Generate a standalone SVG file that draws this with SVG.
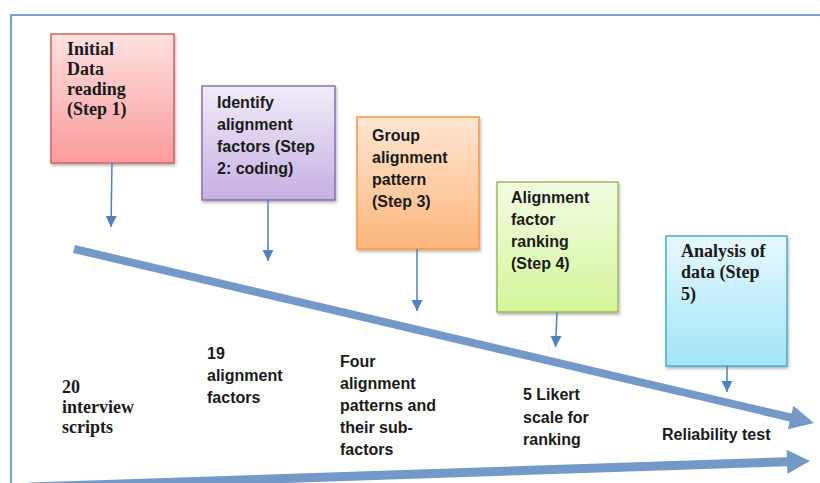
<svg xmlns="http://www.w3.org/2000/svg" width="820" height="483" viewBox="0 0 820 483">
<style>
.serif{font-family:"Liberation Serif","Times New Roman",serif;font-weight:bold;font-size:18px;fill:#1a1a1a}
.sans{font-family:"Liberation Sans",Arial,sans-serif;font-weight:bold;font-size:16px;fill:#1a1a1a}
.thin{stroke:#4F81BD;stroke-width:1.5;fill:none;marker-end:url(#ah)}
.thick{fill:#7299C8;stroke:none}
.box{stroke-width:1.5;filter:url(#sh)}
</style>
<defs>
<marker id="ah" viewBox="0 0 10 10" refX="10" refY="5" markerWidth="7.5" markerHeight="7.5" markerUnits="strokeWidth" orient="auto">
<path d="M0,0 L10,5 L0,10 z" fill="#4F81BD"/>
</marker>
<filter id="sh" x="-10%" y="-10%" width="125%" height="125%">
<feDropShadow dx="1" dy="2" stdDeviation="1.5" flood-color="#000" flood-opacity="0.3"/>
</filter>
<linearGradient id="gRed" x1="0" y1="0" x2="0" y2="1"><stop offset="0" stop-color="#FFE1E1"/><stop offset="1" stop-color="#FA9B9B"/></linearGradient>
<linearGradient id="gPur" x1="0" y1="0" x2="0" y2="1"><stop offset="0" stop-color="#F1ECF8"/><stop offset="1" stop-color="#C6B0E2"/></linearGradient>
<linearGradient id="gOra" x1="0" y1="0" x2="0" y2="1"><stop offset="0" stop-color="#FFE6D4"/><stop offset="1" stop-color="#FDB67B"/></linearGradient>
<linearGradient id="gGrn" x1="0" y1="0" x2="0" y2="1"><stop offset="0" stop-color="#F2FDE4"/><stop offset="1" stop-color="#D4F59A"/></linearGradient>
<linearGradient id="gBlu" x1="0" y1="0" x2="0" y2="1"><stop offset="0" stop-color="#E8F8FD"/><stop offset="1" stop-color="#A0E5F8"/></linearGradient>
</defs>
<rect width="820" height="483" fill="#fff"/>
<g id="frame" fill="none" stroke="#7AA0CF" stroke-width="2">
<path d="M11,483 L11,15 L820,15"/>
</g>
<g id="step1">
<rect class="box" x="51" y="34" width="123" height="129" fill="url(#gRed)" stroke="#D06262"/>
<text class="serif"><tspan x="67" y="55">Initial</tspan><tspan x="67" y="75">Data</tspan><tspan x="67" y="95">reading</tspan><tspan x="67" y="115">(Step 1)</tspan></text>
</g>
<g id="step2">
<rect class="box" x="202" y="86" width="133" height="114" fill="url(#gPur)" stroke="#8A6FB0"/>
<text class="sans"><tspan x="217" y="108">Identify</tspan><tspan x="217" y="130">alignment</tspan><tspan x="217" y="152">factors (Step</tspan><tspan x="217" y="174">2: coding)</tspan></text>
</g>
<g id="step3">
<rect class="box" x="357" y="117" width="122" height="132" fill="url(#gOra)" stroke="#F79646"/>
<text class="sans"><tspan x="372" y="141">Group</tspan><tspan x="372" y="163">alignment</tspan><tspan x="372" y="185">pattern</tspan><tspan x="372" y="207">(Step 3)</tspan></text>
</g>
<g id="step4">
<rect class="box" x="497" y="182" width="121" height="130" fill="url(#gGrn)" stroke="#9BBB59"/>
<text class="sans"><tspan x="511" y="203">Alignment</tspan><tspan x="511" y="225">factor</tspan><tspan x="511" y="247">ranking</tspan><tspan x="511" y="269">(Step 4)</tspan></text>
</g>
<g id="step5">
<rect class="box" x="666" y="236" width="121" height="130" fill="url(#gBlu)" stroke="#4BACC6"/>
<text class="serif"><tspan x="681" y="257">Analysis of</tspan><tspan x="681" y="278">data (Step</tspan><tspan x="681" y="300">5)</tspan></text>
</g>
<g id="out1"><text class="serif"><tspan x="62" y="393">20</tspan><tspan x="62" y="413">interview</tspan><tspan x="62" y="433">scripts</tspan></text></g>
<g id="out2"><text class="sans"><tspan x="207" y="359">19</tspan><tspan x="207" y="381">alignment</tspan><tspan x="207" y="403">factors</tspan></text></g>
<g id="out3"><text class="sans"><tspan x="340" y="367">Four</tspan><tspan x="340" y="389">alignment</tspan><tspan x="340" y="411">patterns and</tspan><tspan x="340" y="433">their sub-</tspan><tspan x="340" y="455">factors</tspan></text></g>
<g id="out4"><text class="sans"><tspan x="523" y="400">5 Likert</tspan><tspan x="523" y="423">scale for</tspan><tspan x="523" y="445">ranking</tspan></text></g>
<g id="out5"><text class="sans" x="662" y="440">Reliability test</text></g>
<g id="connectors">
<path class="thin" d="M112,163 L111,227"/>
<path class="thin" d="M268,200 L268,261"/>
<path class="thin" d="M417,249 L417,311"/>
<path class="thin" d="M557,312 L555.5,347"/>
<path class="thin" d="M727,366 L727,392"/>
<polygon class="thick" points="73.08,252.89 74.92,245.11 791.56,413.62 793.39,405.83 814,423 787.89,429.19 789.72,421.40"/>
<polygon class="thick" points="29.85,482.50 786.86,457.27 786.61,449.78 810,461 787.41,473.76 787.16,466.27 30.15,491.50"/>
</g>
</svg>
